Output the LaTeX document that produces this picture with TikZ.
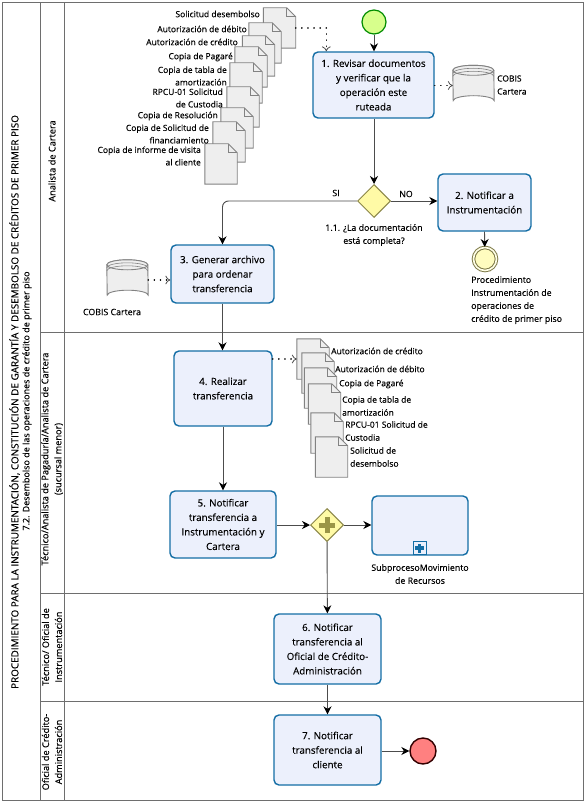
\documentclass[tikz,border=0pt]{standalone}
\usepackage{fontspec}
\setmainfont[FakeBold=0.2]{Open Sans}
\usetikzlibrary{arrows.meta,calc,shapes.geometric,positioning}
\definecolor{taskfill}{RGB}{236,240,252}
\definecolor{taskline}{RGB}{20,110,165}
\definecolor{lane}{RGB}{110,110,110}
\definecolor{docfill}{RGB}{238,238,238}
\definecolor{docline}{RGB}{130,130,130}
\tikzset{
  x=1pt,y=-1pt,
  flow/.style={draw=black!70,line width=0.9pt,-{Stealth[length=8pt,width=8pt,black]}},
  assoc/.style={draw=black,line width=1.6pt,line cap=round,dash pattern=on 0.1pt off 6pt,-{To[length=5pt,width=9pt,black!70,line width=0.8pt,line cap=butt]}},
  lanebar/.style={draw=lane,line width=1pt},
  task/.style={draw=taskline,fill=taskfill,line width=1.4pt,rounded corners=5pt,align=center,font=\fontsize{9.8}{14.5}\selectfont,inner sep=0pt},
  gate/.style={diamond,draw=black!20!yellow!60!black,fill=yellow!35,line width=1pt,minimum width=33pt,minimum height=33pt,inner sep=0pt},
  txt/.style={align=center,font=\fontsize{8.8}{13}\selectfont,inner sep=0pt},
  ltxt/.style={align=left,font=\fontsize{8.5}{13}\selectfont,inner sep=0pt},
  rtxt/.style={align=right,font=\fontsize{8.5}{12.5}\selectfont,inner sep=0pt},
  side/.style={rotate=90,align=center,font=\fontsize{9.2}{13}\selectfont,inner sep=0pt},
  docbox/.style={minimum width=32pt,minimum height=40pt,inner sep=0pt},
}
\newcommand{\docnode}[3]{%
  \node[docbox] (#1) at (#2,#3) {};
  \draw[draw=docline,fill=docfill,line width=0.9pt]
    (#1.south west) -- (#1.north west) -- ($(#1.north east)+(-9,0)$) -- ($(#1.north east)+(0,9)$) -- (#1.south east) -- cycle;
  \draw[draw=docline,line width=0.7pt] ($(#1.north east)+(-9,0)$) -- ($(#1.north east)+(-9,9)$) -- ($(#1.north east)+(0,9)$);
}
\newcommand{\dbnode}[3]{%
  \node[minimum width=41pt,minimum height=40pt,inner sep=0pt] (#1) at (#2,#3) {};
  \draw[draw=docline,fill=docfill,line width=0.9pt]
    ($(#1.north west)+(0,5)$) arc[x radius=20.5,y radius=5,start angle=180,end angle=360]
    -- ($(#1.south east)+(0,-5)$) arc[x radius=20.5,y radius=5,start angle=0,end angle=-180] -- cycle;
  \draw[draw=docline,fill=docfill,line width=0.9pt]
    ($(#1.north west)+(0,5)$) arc[x radius=20.5,y radius=5,start angle=180,end angle=0]
    arc[x radius=20.5,y radius=5,start angle=0,end angle=-180];
  \draw[draw=docline,line width=0.6pt] ($(#1.north west)+(0,8)$) arc[x radius=20.5,y radius=5,start angle=180,end angle=360];
  \draw[draw=docline,line width=0.6pt] ($(#1.north west)+(0,11)$) arc[x radius=20.5,y radius=5,start angle=180,end angle=360];
}
\begin{document}
\begin{tikzpicture}
\useasboundingbox (0,0) rectangle (586,805);
\fill[white] (0,0) rectangle (586,805);
% frame and lanes
\draw[lanebar] (2,3) rectangle (583,800);
\draw[lanebar] (40.5,3) -- (40.5,800);
\draw[lanebar] (64,3) -- (64,800);
\draw[lanebar] (40.5,332) -- (583,332);
\draw[lanebar] (40.5,593) -- (583,593);
\draw[lanebar] (40.5,701) -- (583,701);
% side texts
\node[side,font=\fontsize{9.9}{13}\selectfont] (title) at (14.5,402) {PROCEDIMIENTO PARA LA INSTRUMENTACIÓN, CONSTITUCIÓN DE GARANTÍA Y DESEMBOLSO DE CRÉDITOS DE PRIMER PISO};
\node[side,font=\fontsize{9}{13}\selectfont] (title2) at (27,401) {7.2. Desembolso de las operaciones de crédito de primer piso};
\node[side] (l1) at (52,161) {Analista de Cartera};
\node[side] (l2) at (52,459) {Técnico/Analista de Pagaduría/Analista de Cartera\\(sucursal menor)};
\node[side] (l3) at (52,647) {Técnico/ Oficial de\\Instrumentación};
\node[side] (l4) at (52,752) {Oficial de Crédito-\\Administración};
% events
\node[circle,draw=green!55!black,fill=green!35!yellow!45,line width=1.2pt,minimum size=24pt,inner sep=0pt] (start) at (374,22) {};
\node[circle,draw=black!30!yellow!60!black,fill=yellow!25,double=yellow!10,double distance=1.6pt,line width=1pt,minimum size=23pt,inner sep=0pt] (inter) at (485,259) {};
\node[circle,draw=black!80!red,fill=red!50!white,line width=1.4pt,minimum size=26pt,inner sep=0pt] (fin) at (423,751) {};
% tasks
\node[task,minimum width=121pt,minimum height=66pt] (t1) at (373.5,85) {1. Revisar documentos\\y verificar que la\\operación este\\ruteada};
\node[task,minimum width=93pt,minimum height=57pt] (t2) at (484.5,202.5) {2. Notificar a\\Instrumentación};
\node[task,minimum width=103pt,minimum height=58pt] (t3) at (222.5,274) {3. Generar archivo\\para ordenar\\transferencia};
\node[task,minimum width=98pt,minimum height=75pt] (t4) at (223,388.5) {4. Realizar\\transferencia};
\node[task,minimum width=106pt,minimum height=67pt] (t5) at (223,524.5) {5. Notificar\\transferencia a\\Instrumentación y\\Cartera};
\node[task,minimum width=107pt,minimum height=70pt] (t6) at (327.5,649) {6. Notificar\\transferencia al\\Oficial de Crédito-\\Administración};
\node[task,minimum width=107pt,minimum height=70pt] (t7) at (327.5,750) {7. Notificar\\transferencia al\\cliente};
\node[task,minimum width=96pt,minimum height=59pt] (sub) at (420,525.5) {};
\node[draw=taskline,fill=taskfill,line width=1pt,minimum size=13pt,inner sep=0pt] (submark) at (419.5,548) {\tikz[x=1pt,y=1pt]{\fill[taskline] (-1.6,-4.5) rectangle (1.6,4.5);\fill[taskline] (-4.5,-1.6) rectangle (4.5,1.6);}};
% gateways
\node[gate] (g1) at (374,201) {};
\node[gate] (g2) at (327,525) {};
\node[inner sep=0pt] (g2plus) at (327,525) {\tikz[x=1pt,y=1pt]{\fill[yellow!55!black] (-2.5,-8) rectangle (2.5,8);\fill[yellow!55!black] (-8,-2.5) rectangle (8,2.5);}};
% data stores
\dbnode{db1}{473.5}{85.5}
\dbnode{db2}{127.5}{280}
% documents group 1
\docnode{a1}{279.5}{28}
\docnode{a2}{265}{43}
\docnode{a3}{258.5}{56}
\docnode{a4}{251}{67}
\docnode{a5}{246}{83}
\docnode{a6}{243}{107}
\docnode{a7}{237}{128}
\docnode{a8}{229}{142}
\docnode{a9}{221}{164}
% documents group 2
\docnode{b1}{313}{359}
\docnode{b2}{318}{373}
\docnode{b3}{320.5}{388}
\docnode{b4}{324.5}{404}
\docnode{b5}{327}{433}
\docnode{b6}{331.5}{457}
% doc labels group 1
\node[rtxt,anchor=east] (la1) at (260,14) {Solicitud desembolso};
\node[rtxt,anchor=east] (la2) at (247,29) {Autorización de débito};
\node[rtxt,anchor=east] (la3) at (238,42) {Autorización de crédito};
\node[rtxt,anchor=east] (la4) at (233,57) {Copia de Pagaré};
\node[rtxt,anchor=east] (la5) at (227,76) {Copia de tabla de\\amortización};
\node[rtxt,anchor=east] (la6) at (223,98) {RPCU-01 Solicitud\\de Custodia};
\node[rtxt,anchor=east] (la7) at (218,116) {Copia de Resolución};
\node[rtxt,anchor=east] (la8) at (209,134) {Copia de Solicitud de\\financiamiento};
\node[rtxt,anchor=east] (la9) at (201,156) {Copia de informe de visita\\al cliente};
% doc labels group 2
\node[ltxt,anchor=west] (lb1) at (331,351) {Autorización de crédito};
\node[ltxt,anchor=west] (lb2) at (335,369) {Autorización de débito};
\node[ltxt,anchor=west] (lb3) at (339,384) {Copia de Pagaré};
\node[ltxt,anchor=west] (lb4) at (342,406) {Copia de tabla de\\amortización};
\node[ltxt,anchor=west] (lb5) at (345,431) {RPCU-01 Solicitud de\\Custodia};
\node[ltxt,anchor=west] (lb6) at (350,457) {Solicitud de\\desembolso};
% other labels
\node[txt] (si) at (336,193) {SI};
\node[txt] (no) at (406,194) {NO};
\node[txt] (gl) at (374,235) {1.1. ¿La documentación\\está completa?};
\node[ltxt,anchor=west] (dbl1) at (497,85) {COBIS\\Cartera};
\node[txt] (dbl2) at (112,312) {COBIS Cartera};
\node[txt,align=left,anchor=north west] (il) at (471,276) {Procedimiento\\Instrumentación de\\operaciones de\\crédito de primer piso};
\node[txt] (sl) at (420,574) {SubprocesoMovimiento\\de Recursos};
% connectors
\draw[flow] (start) -- (start |- t1.north);
\draw[flow] (t1.south -| g1) -- (g1);
\draw[flow] (g1) -- (g1 -| t2.west);
\draw[flow,rounded corners=6pt] (g1) -| (t3);
\draw[flow] (t2.south) -- (inter);
\draw[flow] (t3.south) -- (t4.north -| t3.south);
\draw[flow] (t4) -- (t5);
\draw[flow] (g2 -| t5.east) -- (g2);
\draw[flow] (g2) -- (g2 -| sub.west);
\draw[flow] (g2) -- (t6);
\draw[flow] (t6) -- (t7);
\draw[flow] (fin -| t7.east) -- (fin);
\draw[assoc] (a1.east) -| ($(t1.north west)+(14,0)$);
\draw[assoc] (t1.east |- db1) -- (db1);
\draw[assoc] (db2) -- (t3.west |- db2);
\draw[assoc] (t4.north east |- b1.west) -- (b1.west);
\end{tikzpicture}
\end{document}
